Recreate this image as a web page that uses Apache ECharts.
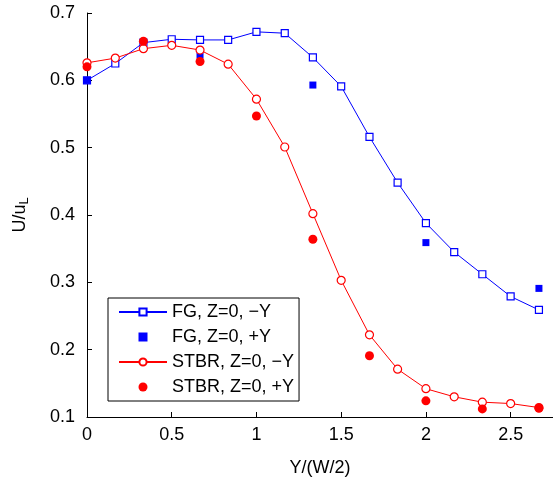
<!DOCTYPE html>
<html>
<head>
<meta charset="utf-8">
<script src="https://cdn.jsdelivr.net/npm/echarts@6/dist/echarts.min.js"></script>
<style>
html,body{margin:0;padding:0;background:#fff;}
#chart{width:553px;height:477px;}
</style>
</head>
<body>
<div id="chart"></div>
<script>
// Data
var xMinus = [0, 0.167, 0.333, 0.5, 0.667, 0.833, 1, 1.167, 1.333, 1.5, 1.667, 1.833, 2, 2.167, 2.333, 2.5, 2.667];
var fgMinus = [0.600, 0.625, 0.656, 0.661, 0.660, 0.660, 0.672, 0.670, 0.634, 0.591, 0.516, 0.448, 0.388, 0.345, 0.312, 0.279, 0.259];
var fgPlusX = [0, 0.667, 1.333, 2, 2.667];
var fgPlus = [0.600, 0.638, 0.593, 0.359, 0.291];
var stbrMinus = [0.626, 0.633, 0.647, 0.652, 0.645, 0.624, 0.572, 0.501, 0.402, 0.303, 0.222, 0.171, 0.142, 0.130, 0.122, 0.120, 0.114];
var stbrPlusX = [0, 0.333, 0.667, 1, 1.333, 1.667, 2, 2.333, 2.667];
var stbrPlus = [0.620, 0.658, 0.628, 0.547, 0.364, 0.191, 0.124, 0.112, 0.113];
var seriesNames = ['FG, Z=0, \u2212Y', 'FG, Z=0, +Y', 'STBR, Z=0, \u2212Y', 'STBR, Z=0, +Y'];
var xTicks = [0, 0.5, 1, 1.5, 2, 2.5];

function pairs(xs, ys) { return xs.map(function (x, i) { return [x, ys[i]]; }); }

var FONT = 'Liberation Sans, Arial, Helvetica, sans-serif';
var BLUE = '#0000ff', RED = '#ff0000';
var SQUARE = 'path://M0,0L10,0L10,10L0,10Z';

var chart = echarts.init(document.getElementById('chart'), null, {renderer: 'canvas'});
chart.setOption({
  animation: false,
  backgroundColor: '#fff',
  textStyle: {fontFamily: FONT},
  grid: {left: 87, right: 0, top: 13, bottom: 60, containLabel: false, outerBoundsMode: 'none'},
  xAxis: {
    type: 'value', min: 0, max: 2.75, interval: 0.5,
    name: 'Y/(W/2)', nameLocation: 'middle', nameGap: 42,
    nameTextStyle: {fontSize: 18, color: '#000', fontFamily: FONT},
    axisLine: {show: true, onZero: false, lineStyle: {color: '#000', width: 1}},
    axisTick: {show: true, inside: true, length: 5, lineStyle: {color: '#000'}, customValues: xTicks},
    axisLabel: {color: '#000', fontSize: 18, margin: 9, fontFamily: FONT, customValues: xTicks,
      formatter: function (v) { return String(v); }},
    splitLine: {show: false}
  },
  yAxis: {
    type: 'value', min: 0.1, max: 0.7, interval: 0.1,
    name: '{a|U/u}{b|L}', nameLocation: 'middle', nameGap: 56, nameRotate: 90,
    nameTextStyle: {color: '#000', fontFamily: FONT,
      rich: {a: {fontSize: 18, color: '#000', fontFamily: FONT}, b: {fontSize: 13, color: '#000', fontFamily: FONT, padding: [8, 0, 0, 0]}}},
    axisLine: {show: true, onZero: false, lineStyle: {color: '#000', width: 1}},
    axisTick: {show: true, inside: true, length: 5, lineStyle: {color: '#000'}},
    axisLabel: {color: '#000', fontSize: 18, margin: 12, fontFamily: FONT,
      formatter: function (v) { return v.toFixed(1); }},
    splitLine: {show: false}
  },
  legend: {
    orient: 'vertical', left: 108, top: 298,
    borderColor: '#000', borderWidth: 1, borderRadius: 0,
    padding: [5, 5, 5, 10], itemGap: 7, itemWidth: 48, itemHeight: 9,
    selectedMode: false, backgroundColor: '#fff', symbolKeepAspect: true,
    textStyle: {fontSize: 18, color: '#000', fontFamily: FONT},
    data: [
      {name: seriesNames[0]},
      {name: seriesNames[1], icon: SQUARE},
      {name: seriesNames[2]},
      {name: seriesNames[3]}
    ]
  },
  series: [
    {
      name: seriesNames[0], type: 'line', data: pairs(xMinus, fgMinus),
      symbol: 'rect', symbolSize: 7, showAllSymbol: true,
      lineStyle: {color: BLUE, width: 1},
      itemStyle: {color: '#fff', borderColor: BLUE, borderWidth: 1.2},
      emphasis: {disabled: true}, z: 2
    },
    {
      name: seriesNames[1], type: 'scatter', data: pairs(fgPlusX, fgPlus),
      symbol: 'rect', symbolSize: 7,
      itemStyle: {color: BLUE, opacity: 1},
      emphasis: {disabled: true}, z: 3
    },
    {
      name: seriesNames[2], type: 'line', data: pairs(xMinus, stbrMinus),
      symbol: 'circle', symbolSize: 8, showAllSymbol: true,
      lineStyle: {color: RED, width: 1},
      itemStyle: {color: '#fff', borderColor: RED, borderWidth: 1.2},
      emphasis: {disabled: true}, z: 4
    },
    {
      name: seriesNames[3], type: 'scatter', data: pairs(stbrPlusX, stbrPlus),
      symbol: 'circle', symbolSize: 9,
      itemStyle: {color: RED, opacity: 1},
      emphasis: {disabled: true}, z: 5
    }
  ]
});
</script>
</body>
</html>
